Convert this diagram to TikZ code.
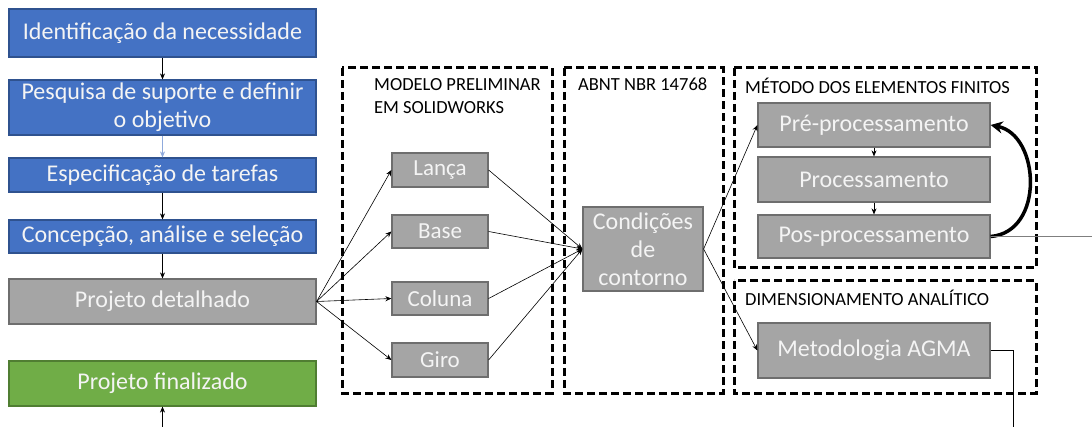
\documentclass[tikz,border=0pt]{standalone}
\usepackage{fontspec}
\setmainfont{Carlito}
\usetikzlibrary{arrows.meta}
\definecolor{bluefill}{HTML}{4472C4}
\definecolor{blueedge}{HTML}{2F528F}
\definecolor{grayfill}{HTML}{A5A5A5}
\definecolor{grayedge}{HTML}{6E6E6E}
\definecolor{greenfill}{HTML}{70AD47}
\definecolor{greenedge}{HTML}{507E32}
\definecolor{lightarrow}{HTML}{8FAADC}
\definecolor{linegray}{HTML}{7F7F7F}
\definecolor{boxtext}{HTML}{F4F4F4}
\tikzset{
  box/.style={draw, line width=1.2pt, inner sep=0pt, align=center, text=boxtext},
  bigbox/.style={box, minimum width=307pt, font=\fontsize{24}{28}\selectfont},
  bluebox/.style={bigbox, fill=bluefill, draw=blueedge},
  graybox/.style={box, fill=grayfill, draw=grayedge},
  greenbox/.style={bigbox, fill=greenfill, draw=greenedge},
  partbox/.style={graybox, minimum width=96pt, font=\fontsize{23}{26}\selectfont},
  femboxstyle/.style={graybox, minimum width=232pt, font=\fontsize{24}{28}\selectfont},
  frame/.style={draw, line width=3pt, dash pattern=on 8pt off 4pt},
  ttl/.style={anchor=north west, align=left, inner sep=0pt, font=\fontsize{18.5}{23}\selectfont},
  arr/.style={-{Stealth[length=6pt,width=5pt]}, line width=0.6pt},
}
\begin{document}
\begin{tikzpicture}[x=1pt,y=-1pt]
\useasboundingbox (0,0) rectangle (1092,427);
% left column
\node[bluebox, minimum height=48pt] (n1) at (162.5,33) {Identificação da necessidade};
\node[bluebox, minimum height=55pt] (n2) at (162.5,107.5) {Pesquisa de suporte e definir\\o objetivo};
\node[bluebox, minimum height=34pt] (n3) at (162.5,175) {Especificação de tarefas};
\node[bluebox, minimum height=33pt] (n4) at (162.5,236.5) {Concepção, análise e seleção};
\node[graybox, bigbox, minimum height=45pt] (n5) at (162.5,301.5) {Projeto detalhado};
\node[greenbox, minimum height=45pt] (n6) at (162.5,383.5) {Projeto finalizado};
\coordinate (bottomin) at (162.5,427);
\draw[arr] (n1) -- (n2);
\draw[arr, draw=lightarrow] (n2) -- (n3);
\draw[arr] (n3) -- (n4);
\draw[arr] (n4) -- (n5);
\draw[arr] (bottomin) -- (n6);
% frames
\draw[frame] (342,68) rectangle (552,393);
\draw[frame] (564,68) rectangle (723,393);
\draw[frame] (734,68) rectangle (1036,268);
\draw[frame] (734,281) rectangle (1036,393);
\node[ttl] (t1) at (374,78) {MODELO PRELIMINAR\\EM SOLIDWORKS};
\node[ttl] (t2) at (578,78) {ABNT NBR 14768};
\node[ttl] (t3) at (745,78) {MÉTODO DOS ELEMENTOS FINITOS};
\node[ttl] (t4) at (745,290) {DIMENSIONAMENTO ANALÍTICO};
% parts
\node[partbox, minimum height=34pt] (lanca) at (440,170) {Lança};
\node[partbox, minimum height=33pt] (base) at (440,231.5) {Base};
\node[partbox, minimum height=33pt] (coluna) at (440,298.5) {Coluna};
\node[partbox, minimum height=34pt] (giro) at (440,360) {Giro};
\node[graybox, minimum width=120pt, minimum height=84pt, font=\fontsize{24}{28}\selectfont] (cond) at (643,249) {Condições\\de\\contorno};
% FEM
\node[femboxstyle, minimum height=44pt] (pre) at (874,125) {Pré-processamento};
\node[femboxstyle, minimum height=45pt] (proc) at (874,179.5) {Processamento};
\node[femboxstyle, minimum height=43pt] (pos) at (874,236.5) {Pos-processamento};
\node[femboxstyle, minimum height=55pt] (agma) at (874,350.5) {Metodologia AGMA};
% connectors
\foreach \p in {lanca,base,coluna,giro}{
  \draw[arr] (n5.east) -- (\p.west);
  \draw[arr] (\p.east) -- (cond.west);
}
\draw[arr] (cond.east) -- (pre.west);
\draw[arr] (cond.east) -- (agma.west);
\draw[arr] (pre) -- (proc);
\draw[arr] (proc) -- (pos);
\draw[line width=3.5pt, -{Stealth[length=12pt,width=12pt]}] (pos.east) .. controls (1045,232) and (1040,135) .. (pre.east);
\coordinate (posout) at (1092,236.5);
\draw[linegray, line width=0.8pt] (pos.east) -- (posout);
\coordinate (agmabend) at (1013,350.5);
\coordinate (agmaout) at (1013,427);
\draw[line width=0.7pt] (agma.east) -- (agmabend) -- (agmaout);
\end{tikzpicture}
\end{document}
